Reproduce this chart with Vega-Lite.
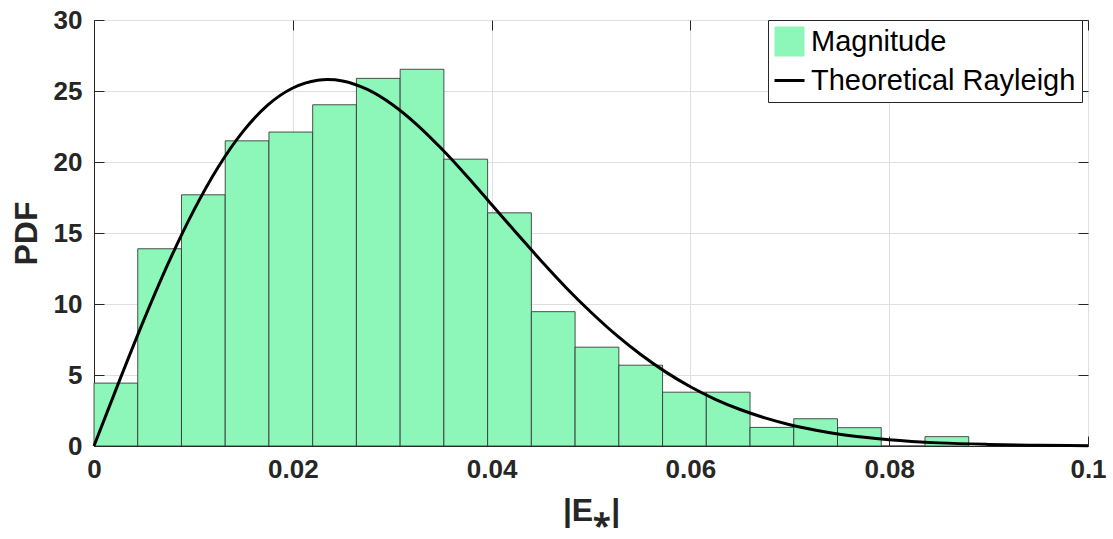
{
  "$schema": "https://vega.github.io/schema/vega-lite/v6.json",
  "width": 994,
  "height": 426,
  "autosize": {"type": "none"},
  "padding": {"left": 94, "top": 20, "right": 25, "bottom": 93},
  "background": "white",
  "config": {"view": {"stroke": "#7a7a7a", "strokeWidth": 1}, "font": "Liberation Sans"},
  "resolve": {"legend": {"color": "independent", "shape": "independent"}},
  "datasets": {
    "bins": [
      {"bin_start": 0.0, "bin_end": 0.0044, "pdf": 4.43, "series": "Magnitude"},
      {"bin_start": 0.0044, "bin_end": 0.0088, "pdf": 13.89, "series": "Magnitude"},
      {"bin_start": 0.0088, "bin_end": 0.0132, "pdf": 17.69, "series": "Magnitude"},
      {"bin_start": 0.0132, "bin_end": 0.0176, "pdf": 21.49, "series": "Magnitude"},
      {"bin_start": 0.0176, "bin_end": 0.022, "pdf": 22.11, "series": "Magnitude"},
      {"bin_start": 0.022, "bin_end": 0.0264, "pdf": 24.03, "series": "Magnitude"},
      {"bin_start": 0.0264, "bin_end": 0.0308, "pdf": 25.89, "series": "Magnitude"},
      {"bin_start": 0.0308, "bin_end": 0.0352, "pdf": 26.53, "series": "Magnitude"},
      {"bin_start": 0.0352, "bin_end": 0.0396, "pdf": 20.2, "series": "Magnitude"},
      {"bin_start": 0.0396, "bin_end": 0.044, "pdf": 16.42, "series": "Magnitude"},
      {"bin_start": 0.044, "bin_end": 0.0484, "pdf": 9.46, "series": "Magnitude"},
      {"bin_start": 0.0484, "bin_end": 0.0528, "pdf": 6.96, "series": "Magnitude"},
      {"bin_start": 0.0528, "bin_end": 0.0572, "pdf": 5.69, "series": "Magnitude"},
      {"bin_start": 0.0572, "bin_end": 0.0616, "pdf": 3.79, "series": "Magnitude"},
      {"bin_start": 0.0616, "bin_end": 0.066, "pdf": 3.79, "series": "Magnitude"},
      {"bin_start": 0.066, "bin_end": 0.0704, "pdf": 1.31, "series": "Magnitude"},
      {"bin_start": 0.0704, "bin_end": 0.0748, "pdf": 1.92, "series": "Magnitude"},
      {"bin_start": 0.0748, "bin_end": 0.0792, "pdf": 1.29, "series": "Magnitude"},
      {"bin_start": 0.0792, "bin_end": 0.0836, "pdf": 0.0, "series": "Magnitude"},
      {"bin_start": 0.0836, "bin_end": 0.088, "pdf": 0.66, "series": "Magnitude"}
    ],
    "curve": [
      {"x": 0.0, "pdf": 0.0, "series": "Theoretical Rayleigh"},
      {"x": 0.0025, "pdf": 4.5, "series": "Theoretical Rayleigh"},
      {"x": 0.005, "pdf": 8.85, "series": "Theoretical Rayleigh"},
      {"x": 0.0075, "pdf": 12.91, "series": "Theoretical Rayleigh"},
      {"x": 0.01, "pdf": 16.54, "series": "Theoretical Rayleigh"},
      {"x": 0.0125, "pdf": 19.65, "series": "Theoretical Rayleigh"},
      {"x": 0.015, "pdf": 22.16, "series": "Theoretical Rayleigh"},
      {"x": 0.0175, "pdf": 24.02, "series": "Theoretical Rayleigh"},
      {"x": 0.02, "pdf": 25.21, "series": "Theoretical Rayleigh"},
      {"x": 0.0225, "pdf": 25.76, "series": "Theoretical Rayleigh"},
      {"x": 0.0235, "pdf": 25.81, "series": "Theoretical Rayleigh"},
      {"x": 0.025, "pdf": 25.71, "series": "Theoretical Rayleigh"},
      {"x": 0.0275, "pdf": 25.11, "series": "Theoretical Rayleigh"},
      {"x": 0.03, "pdf": 24.05, "series": "Theoretical Rayleigh"},
      {"x": 0.0325, "pdf": 22.62, "series": "Theoretical Rayleigh"},
      {"x": 0.035, "pdf": 20.91, "series": "Theoretical Rayleigh"},
      {"x": 0.0375, "pdf": 19.01, "series": "Theoretical Rayleigh"},
      {"x": 0.04, "pdf": 17.01, "series": "Theoretical Rayleigh"},
      {"x": 0.0425, "pdf": 15.0, "series": "Theoretical Rayleigh"},
      {"x": 0.045, "pdf": 13.03, "series": "Theoretical Rayleigh"},
      {"x": 0.0475, "pdf": 11.15, "series": "Theoretical Rayleigh"},
      {"x": 0.05, "pdf": 9.42, "series": "Theoretical Rayleigh"},
      {"x": 0.0525, "pdf": 7.84, "series": "Theoretical Rayleigh"},
      {"x": 0.055, "pdf": 6.44, "series": "Theoretical Rayleigh"},
      {"x": 0.0575, "pdf": 5.22, "series": "Theoretical Rayleigh"},
      {"x": 0.06, "pdf": 4.17, "series": "Theoretical Rayleigh"},
      {"x": 0.0625, "pdf": 3.29, "series": "Theoretical Rayleigh"},
      {"x": 0.065, "pdf": 2.57, "series": "Theoretical Rayleigh"},
      {"x": 0.0675, "pdf": 1.98, "series": "Theoretical Rayleigh"},
      {"x": 0.07, "pdf": 1.5, "series": "Theoretical Rayleigh"},
      {"x": 0.0725, "pdf": 1.13, "series": "Theoretical Rayleigh"},
      {"x": 0.075, "pdf": 0.83, "series": "Theoretical Rayleigh"},
      {"x": 0.0775, "pdf": 0.61, "series": "Theoretical Rayleigh"},
      {"x": 0.08, "pdf": 0.44, "series": "Theoretical Rayleigh"},
      {"x": 0.085, "pdf": 0.22, "series": "Theoretical Rayleigh"},
      {"x": 0.09, "pdf": 0.11, "series": "Theoretical Rayleigh"},
      {"x": 0.095, "pdf": 0.05, "series": "Theoretical Rayleigh"},
      {"x": 0.1, "pdf": 0.02, "series": "Theoretical Rayleigh"}
    ]
  },
  "layer": [
    {
      "data": {"name": "bins"},
      "mark": {"type": "rect", "stroke": "#333333", "strokeWidth": 1, "strokeOpacity": 0.85, "opacity": 1},
      "encoding": {
        "x": {
          "field": "bin_start", "type": "quantitative",
          "scale": {"domain": [0, 0.1], "nice": false, "zero": false},
          "axis": {
            "orient": "bottom", "values": [0, 0.02, 0.04, 0.06, 0.08, 0.1], "format": "~g",
            "labelFont": "Liberation Sans", "labelFontWeight": "bold", "labelFontSize": 26,
            "labelColor": "#262626", "labelPadding": 20, "labelFlush": false, "labelOverlap": false,
            "tickSize": -10, "tickColor": "#262626", "domainColor": "#262626",
            "grid": true, "gridColor": "#dfdfdf", "gridWidth": 1,
            "title": "|E⁎|", "titleFont": "Liberation Sans", "titleFontSize": 32, "titleFontWeight": "bold",
            "titleColor": "#262626", "titlePadding": 13
          }
        },
        "x2": {"field": "bin_end"},
        "y": {
          "field": "pdf", "type": "quantitative",
          "scale": {"domain": [0, 30], "nice": false},
          "axis": {
            "orient": "left", "values": [0, 5, 10, 15, 20, 25, 30],
            "labelFont": "Liberation Sans", "labelFontWeight": "bold", "labelFontSize": 26,
            "labelColor": "#262626", "labelPadding": 22, "labelFlush": false, "labelOverlap": false,
            "tickSize": -10, "tickColor": "#262626", "domainColor": "#262626",
            "grid": true, "gridColor": "#dfdfdf", "gridWidth": 1,
            "title": "PDF", "titleFont": "Liberation Sans", "titleFontSize": 32, "titleFontWeight": "bold",
            "titleColor": "#262626", "titlePadding": 10
          }
        },
        "y2": {"datum": 0},
        "color": {
          "field": "series", "type": "nominal",
          "scale": {"domain": ["Magnitude", "Theoretical Rayleigh"], "range": ["#8cf7b9", "#000000"]},
          "legend": null
        }
      }
    },
    {
      "data": {"name": "curve"},
      "mark": {"type": "line", "strokeWidth": 3, "interpolate": "monotone"},
      "encoding": {
        "x": {
          "field": "x", "type": "quantitative",
          "axis": {"orient": "top", "values": [0, 0.02, 0.04, 0.06, 0.08, 0.1], "labels": false, "domain": false, "grid": false, "tickSize": -10, "tickColor": "#262626", "title": null}
        },
        "y": {
          "field": "pdf", "type": "quantitative",
          "axis": {"orient": "right", "values": [0, 5, 10, 15, 20, 25, 30], "labels": false, "domain": false, "grid": false, "tickSize": -10, "tickColor": "#262626", "title": null}
        },
        "color": {"field": "series", "type": "nominal", "legend": null}
      }
    },
    {
      "data": {"name": "curve"},
      "mark": {"type": "point", "filled": true, "size": 0, "stroke": "#404040", "strokeWidth": 1},
      "encoding": {
        "x": {"field": "x", "type": "quantitative", "axis": null},
        "y": {"field": "pdf", "type": "quantitative", "axis": null},
        "color": {
          "field": "series", "type": "nominal",
          "legend": {
            "orient": "none", "legendX": 674, "legendY": 0, "title": null,
            "labelFont": "Liberation Sans", "labelFontSize": 29, "labelColor": "#000000", "labelLimit": 500,
            "symbolSize": 900, "labelOffset": 6, "rowPadding": 6, "padding": 6,
            "symbolStrokeColor": "#404040", "symbolStrokeWidth": 1, "symbolOpacity": 1,
            "strokeColor": "#262626", "fillColor": "#ffffff", "cornerRadius": 0
          }
        },
        "shape": {
          "field": "series", "type": "nominal",
          "scale": {"domain": ["Magnitude", "Theoretical Rayleigh"], "range": ["M-1,-1H1V1H-1Z", "M-1,-0.1H1V0.1H-1Z"]},
          "legend": {
            "orient": "none", "legendX": 674, "legendY": 0, "title": null,
            "labelFont": "Liberation Sans", "labelFontSize": 29, "labelColor": "#000000", "labelLimit": 500,
            "symbolSize": 900, "labelOffset": 6, "rowPadding": 6, "padding": 6,
            "symbolStrokeColor": "#404040", "symbolStrokeWidth": 1, "symbolOpacity": 1,
            "strokeColor": "#262626", "fillColor": "#ffffff", "cornerRadius": 0
          }
        }
      }
    }
  ]
}
